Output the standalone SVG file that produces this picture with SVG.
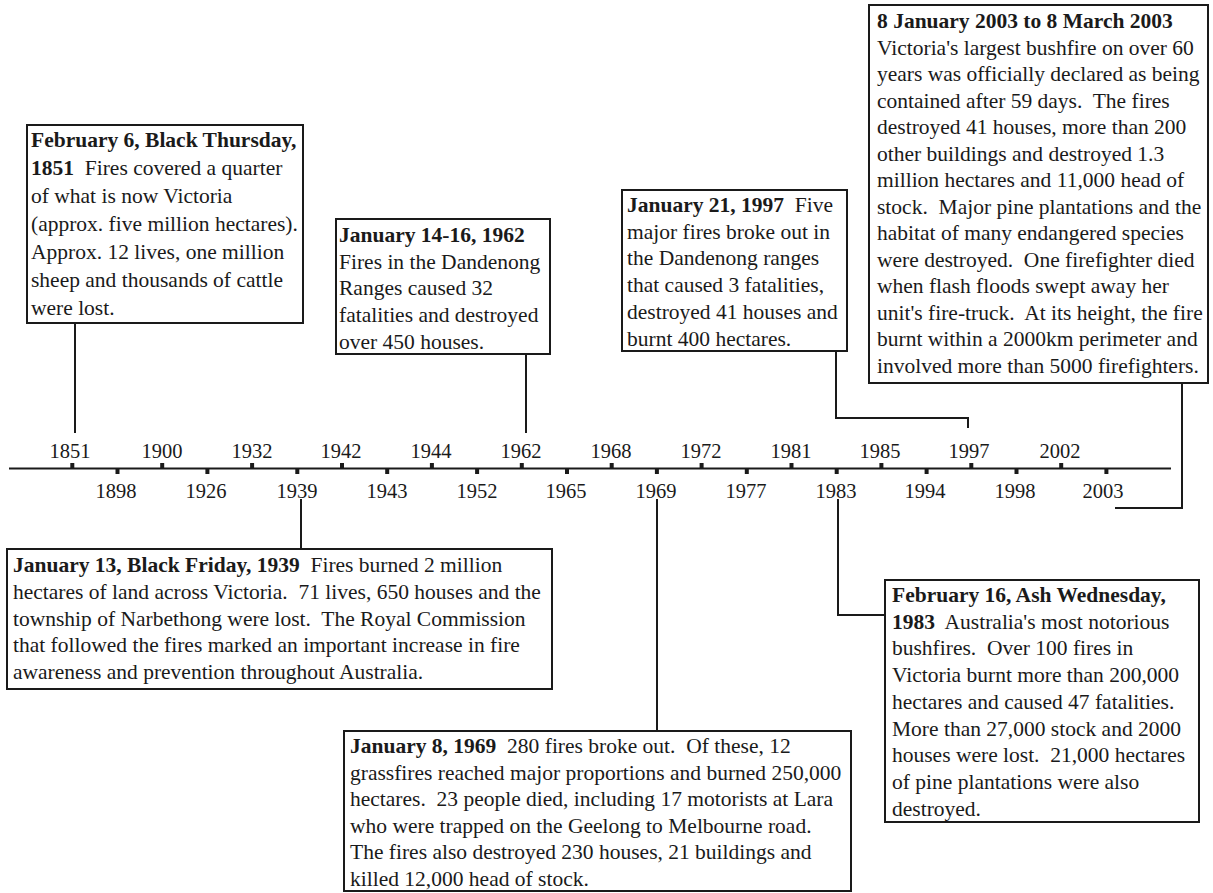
<svg xmlns="http://www.w3.org/2000/svg" width="1213" height="893" viewBox="0 0 1213 893">
<style>
.t{font-family:"Liberation Serif","Times New Roman",serif;font-size:21.5px;fill:#1a1a1a}
.b{font-weight:bold}
.box{fill:#fff;stroke:#1a1a1a;stroke-width:2}
.conn{fill:none;stroke:#1a1a1a;stroke-width:2}
.lbl{font-family:"Liberation Serif","Times New Roman",serif;font-size:20.5px;fill:#1a1a1a;text-anchor:middle}
.tick{fill:#1a1a1a}
</style>
<rect width="1213" height="893" fill="#fff"/>

<g id="timeline">
<line x1="9" y1="468.5" x2="1171" y2="468.5" class="conn"/>
<g id="ticks-upper">
<rect class="tick" x="70.3" y="463" width="4" height="6"/>
<rect class="tick" x="160.2" y="463" width="4" height="6"/>
<rect class="tick" x="250.1" y="463" width="4" height="6"/>
<rect class="tick" x="340" y="463" width="4" height="6"/>
<rect class="tick" x="429.9" y="463" width="4" height="6"/>
<rect class="tick" x="519.8" y="463" width="4" height="6"/>
<rect class="tick" x="609.7" y="463" width="4" height="6"/>
<rect class="tick" x="699.6" y="463" width="4" height="6"/>
<rect class="tick" x="789.5" y="463" width="4" height="6"/>
<rect class="tick" x="879.4" y="463" width="4" height="6"/>
<rect class="tick" x="969.3" y="463" width="4" height="6"/>
<rect class="tick" x="1059.2" y="463" width="4" height="6"/>
</g>
<g id="ticks-lower">
<rect class="tick" x="115.5" y="468" width="4" height="6"/>
<rect class="tick" x="205.4" y="468" width="4" height="6"/>
<rect class="tick" x="295.3" y="468" width="4" height="6"/>
<rect class="tick" x="385.2" y="468" width="4" height="6"/>
<rect class="tick" x="475.1" y="468" width="4" height="6"/>
<rect class="tick" x="565" y="468" width="4" height="6"/>
<rect class="tick" x="654.9" y="468" width="4" height="6"/>
<rect class="tick" x="744.8" y="468" width="4" height="6"/>
<rect class="tick" x="834.7" y="468" width="4" height="6"/>
<rect class="tick" x="924.6" y="468" width="4" height="6"/>
<rect class="tick" x="1014.5" y="468" width="4" height="6"/>
<rect class="tick" x="1104.4" y="468" width="4" height="6"/>
</g>
<g id="labels-upper">
<text class="lbl" x="70" y="458">1851</text>
<text class="lbl" x="162" y="458">1900</text>
<text class="lbl" x="252" y="458">1932</text>
<text class="lbl" x="341" y="458">1942</text>
<text class="lbl" x="431" y="458">1944</text>
<text class="lbl" x="521" y="458">1962</text>
<text class="lbl" x="611" y="458">1968</text>
<text class="lbl" x="701" y="458">1972</text>
<text class="lbl" x="791" y="458">1981</text>
<text class="lbl" x="880" y="458">1985</text>
<text class="lbl" x="969" y="458">1997</text>
<text class="lbl" x="1060" y="458">2002</text>
</g>
<g id="labels-lower">
<text class="lbl" x="116" y="498">1898</text>
<text class="lbl" x="206" y="498">1926</text>
<text class="lbl" x="297" y="498">1939</text>
<text class="lbl" x="387" y="498">1943</text>
<text class="lbl" x="477" y="498">1952</text>
<text class="lbl" x="566" y="498">1965</text>
<text class="lbl" x="656" y="498">1969</text>
<text class="lbl" x="746" y="498">1977</text>
<text class="lbl" x="836" y="498">1983</text>
<text class="lbl" x="925" y="498">1994</text>
<text class="lbl" x="1015" y="498">1998</text>
<text class="lbl" x="1103" y="498">2003</text>
</g>
</g>

<g id="connectors">
<path class="conn" d="M75 323 V433"/>
<path class="conn" d="M526 354 V433"/>
<path class="conn" d="M836 351 V418 H968 V428"/>
<path class="conn" d="M1182 383 V508 H1115"/>
<path class="conn" d="M301 499 V549"/>
<path class="conn" d="M657 499 V731"/>
<path class="conn" d="M838 499 V615 H885"/>
</g>

<g id="node-1851">
<rect class="box" x="27" y="125" width="276" height="198"/>
<text class="t" x="31" y="147"><tspan class="b">February 6, Black Thursday,</tspan></text>
<text class="t" x="31" y="175"><tspan class="b">1851</tspan>&#160; Fires covered a quarter</text>
<text class="t" x="31" y="203">of what is now Victoria</text>
<text class="t" x="31" y="231">(approx. five million hectares).</text>
<text class="t" x="31" y="259">Approx. 12 lives, one million</text>
<text class="t" x="31" y="287">sheep and thousands of cattle</text>
<text class="t" x="31" y="315">were lost.</text>
</g>

<g id="node-1962">
<rect class="box" x="336" y="219" width="214" height="135"/>
<text class="t" x="339" y="242"><tspan class="b">January 14-16, 1962</tspan></text>
<text class="t" x="339" y="268.7">Fires in the Dandenong</text>
<text class="t" x="339" y="295.4">Ranges caused 32</text>
<text class="t" x="339" y="322.1">fatalities and destroyed</text>
<text class="t" x="339" y="348.8">over 450 houses.</text>
</g>

<g id="node-1997">
<rect class="box" x="622" y="190" width="225" height="161"/>
<text class="t" x="627" y="212"><tspan class="b">January 21, 1997</tspan>&#160; Five</text>
<text class="t" x="627" y="238.7">major fires broke out in</text>
<text class="t" x="627" y="265.4">the Dandenong ranges</text>
<text class="t" x="627" y="292.1">that caused 3 fatalities,</text>
<text class="t" x="627" y="318.8">destroyed 41 houses and</text>
<text class="t" x="627" y="345.5">burnt 400 hectares.</text>
</g>

<g id="node-2003">
<rect class="box" x="869" y="5" width="339" height="378"/>
<text class="t" x="877" y="28"><tspan class="b">8 January 2003 to 8 March 2003</tspan></text>
<text class="t" x="877" y="54.5">Victoria's largest bushfire on over 60</text>
<text class="t" x="877" y="81">years was officially declared as being</text>
<text class="t" x="877" y="107.5">contained after 59 days.&#160; The fires</text>
<text class="t" x="877" y="134">destroyed 41 houses, more than 200</text>
<text class="t" x="877" y="160.5">other buildings and destroyed 1.3</text>
<text class="t" x="877" y="187">million hectares and 11,000 head of</text>
<text class="t" x="877" y="213.5">stock.&#160; Major pine plantations and the</text>
<text class="t" x="877" y="240">habitat of many endangered species</text>
<text class="t" x="877" y="266.5">were destroyed.&#160; One firefighter died</text>
<text class="t" x="877" y="293">when flash floods swept away her</text>
<text class="t" x="877" y="319.5">unit's fire-truck.&#160; At its height, the fire</text>
<text class="t" x="877" y="346">burnt within a 2000km perimeter and</text>
<text class="t" x="877" y="372.5">involved more than 5000 firefighters.</text>
</g>

<g id="node-1939">
<rect class="box" x="7" y="549" width="545" height="140"/>
<text class="t" x="13" y="572"><tspan class="b">January 13, Black Friday, 1939</tspan>&#160; Fires burned 2 million</text>
<text class="t" x="13" y="598.8">hectares of land across Victoria.&#160; 71 lives, 650 houses and the</text>
<text class="t" x="13" y="625.6">township of Narbethong were lost.&#160; The Royal Commission</text>
<text class="t" x="13" y="652.4">that followed the fires marked an important increase in fire</text>
<text class="t" x="13" y="679.2">awareness and prevention throughout Australia.</text>
</g>

<g id="node-1969">
<rect class="box" x="344" y="731" width="507" height="160"/>
<text class="t" x="350" y="753"><tspan class="b">January 8, 1969</tspan>&#160; 280 fires broke out.&#160; Of these, 12</text>
<text class="t" x="350" y="779.6">grassfires reached major proportions and burned 250,000</text>
<text class="t" x="350" y="806.2">hectares.&#160; 23 people died, including 17 motorists at Lara</text>
<text class="t" x="350" y="832.8">who were trapped on the Geelong to Melbourne road.</text>
<text class="t" x="350" y="859.4">The fires also destroyed 230 houses, 21 buildings and</text>
<text class="t" x="350" y="886">killed 12,000 head of stock.</text>
</g>

<g id="node-1983">
<rect class="box" x="885" y="580" width="314" height="242"/>
<text class="t" x="892" y="602"><tspan class="b">February 16, Ash Wednesday,</tspan></text>
<text class="t" x="892" y="628.7"><tspan class="b">1983</tspan>&#160; Australia's most notorious</text>
<text class="t" x="892" y="655.4">bushfires.&#160; Over 100 fires in</text>
<text class="t" x="892" y="682.1">Victoria burnt more than 200,000</text>
<text class="t" x="892" y="708.8">hectares and caused 47 fatalities.</text>
<text class="t" x="892" y="735.5">More than 27,000 stock and 2000</text>
<text class="t" x="892" y="762.2">houses were lost.&#160; 21,000 hectares</text>
<text class="t" x="892" y="788.9">of pine plantations were also</text>
<text class="t" x="892" y="815.6">destroyed.</text>
</g>
</svg>
